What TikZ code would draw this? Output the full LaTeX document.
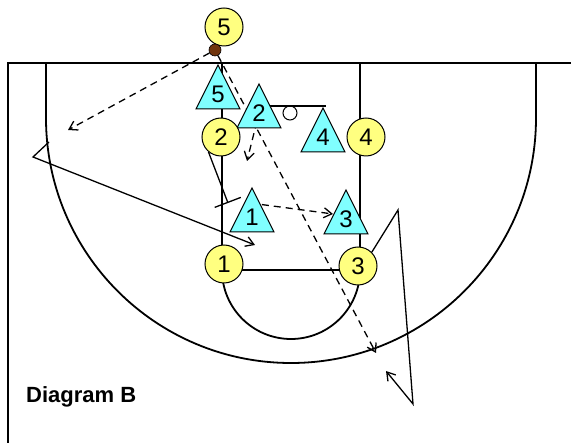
\documentclass[tikz,border=0pt]{standalone}
\usepackage{fontspec}
\setmainfont{Liberation Sans}
\usetikzlibrary{arrows.meta,positioning,calc}

\definecolor{playeryellow}{RGB}{255,255,128}
\definecolor{zonecyan}{RGB}{128,255,255}
\definecolor{ballbrown}{RGB}{112,52,12}

\pgfdeclarelayer{bg}
\pgfsetlayers{bg,main}

% zone defender: name, apex x, apex y, number
\newcommand{\zonetri}[4]{%
  \filldraw[zone] (#2,#3) -- ++(22,44) -- ++(-44,0) -- cycle;
  \node[zonelabel] (#1) at (#2,#3+29) {#4};}

\begin{document}
\begin{tikzpicture}[
      x=1pt, y=-1pt,
      court/.style={line width=1.8pt},
      player/.style={
        circle,
        draw,
        line width=1pt,
        fill=playeryellow,
        minimum size=38pt,
        inner sep=0pt,
        font=\fontsize{24}{24}\selectfont
      },
      zone/.style={draw, line width=1pt, fill=zonecyan},
      zonelabel/.style={inner sep=0pt, font=\fontsize{24}{24}\selectfont},
      ball/.style={
        circle,
        draw,
        line width=0.6pt,
        fill=ballbrown,
        minimum size=12pt,
        inner sep=0pt
      },
      move/.style={line width=1.3pt, -{Straight Barb[length=8pt,width=10pt]}},
      pass/.style={move, dash pattern=on 7pt off 5pt},
      screen/.style={line width=1.3pt, -{Bar[width=28pt]}}
    ]

    \useasboundingbox (0,0) rectangle (571,443);
    \begin{pgfonlayer}{bg}
      \fill[white] (0,0) rectangle (571,443);
    \end{pgfonlayer}

    % Court
    \draw[court] (8,443) -- (8,63) -- (571,63);
    \draw[court] (46,63) -- (46,118) arc[start angle=180, end angle=0, radius=245] -- (536,63);
    \draw[court] (222,63) -- (222,270) -- (360,270) -- (360,63);
    \draw[court] (222,270) arc[start angle=180, end angle=0, radius=69];
    \draw[court] (258,106) -- (326,106);
    \draw[line width=1pt] (290,113) circle[radius=7];

    % Zone (triangles)
    \zonetri{t5}{218}{65}{5}
    \zonetri{t2}{259}{84}{2}
    \zonetri{t4}{323}{108}{4}
    \zonetri{t1}{252}{188}{1}
    \zonetri{t3}{346}{190}{3}

    % Offense
    \node[player] (p5) at (224,27) {5};
    \node[player] (p2) at (221,137) {2};
    \node[player] (p4) at (366,137) {4};
    \node[player] (p1) at (224,264) {1};
    \node[player] (p3) at (358,266) {3};
    \node[ball] (ball) at (215,50) {};

    % Free ends of the paths
    \coordinate (wing) at (68,130);
    \coordinate (deep) at (376,353);
    \coordinate (help) at (247,161);
    \coordinate (scr) at (228,203);
    \coordinate (cutin) at (255,245);
    \coordinate (cutout) at (33,157);
    \coordinate (cuttop) at (49,142);
    \coordinate (t1r) at (250,203);
    \coordinate (t3l) at (333,214);
    \coordinate (up3) at (398,210);
    \coordinate (low3) at (413,404);
    \coordinate (end3) at (386,371);

    \node[font=\bfseries\fontsize{22}{22}\selectfont, anchor=base west, inner sep=0pt]
      (title) at (26,403) {Diagram B};

    % Passes and cuts
    \begin{pgfonlayer}{bg}
      \draw[pass] (ball) -- (wing);
      \draw[pass] (ball) -- (deep);
      \draw[pass] (t2) -- (help);
      \draw[pass] (t1r) -- (t3l);
      \draw[screen] (p2.230) -- (scr);
      \draw[move, {Straight Barb[length=8pt,width=10pt]}-] (cutin) -- (cutout) -- (cuttop);
      \draw[move] (p3.45) -- (up3) -- (low3) -- (end3);
    \end{pgfonlayer}

\end{tikzpicture}
\end{document}
